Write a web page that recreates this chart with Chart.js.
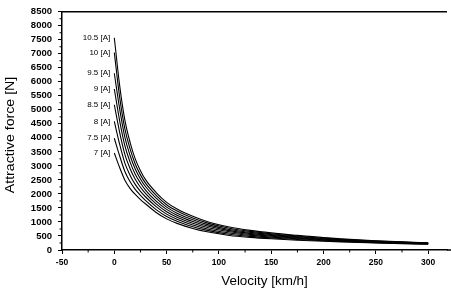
<!DOCTYPE html>
<html><head><meta charset="utf-8">
<script src="https://cdn.jsdelivr.net/npm/chart.js@4.4.0/dist/chart.umd.min.js"></script>
<style>html,body{margin:0;padding:0;background:#fff;}#wrap{width:451px;height:293px;}</style>
</head><body><div id="wrap"><canvas id="c" width="451" height="293"></canvas></div>
<script>
const velocity = [0, 5, 10, 15, 20, 25, 30, 40, 50, 60, 75, 90, 110, 130, 150, 175, 200, 225, 250, 275, 300];
const currentLabels = ['7 [A]', '7.5 [A]', '8 [A]', '8.5 [A]', '9 [A]', '9.5 [A]', '10 [A]', '10.5 [A]'];
const force7A   = [3460, 2950, 2500, 2200, 1980, 1800, 1640, 1340, 1110, 950, 770, 640, 520, 450, 400, 350, 310, 280, 250, 225, 205];
const force7_5A = [3986, 3370, 2810, 2440, 2160, 1950, 1760, 1440, 1195, 1025, 830, 690, 563, 485, 430, 374, 329, 294, 261, 234, 213];
const force8A   = [4584, 3790, 3110, 2670, 2340, 2090, 1890, 1545, 1280, 1095, 893, 743, 606, 521, 460, 399, 347, 309, 273, 244, 221];
const force8_5A = [5181, 4215, 3420, 2910, 2525, 2240, 2010, 1645, 1365, 1170, 955, 795, 650, 557, 490, 423, 366, 323, 284, 253, 229];
const force9A   = [5743, 4635, 3730, 3145, 2705, 2390, 2130, 1745, 1450, 1240, 1015, 846, 690, 593, 520, 447, 384, 337, 296, 262, 236];
const force9_5A = [6305, 5060, 4035, 3380, 2890, 2535, 2255, 1850, 1530, 1315, 1077, 897, 734, 629, 550, 471, 403, 351, 307, 271, 244];
const force10A  = [7042, 5480, 4340, 3615, 3070, 2680, 2375, 1950, 1615, 1390, 1138, 949, 777, 664, 580, 496, 421, 366, 319, 281, 252];
const force10_5A= [7570, 5900, 4650, 3850, 3250, 2830, 2500, 2050, 1700, 1460, 1200, 1000, 820, 700, 610, 520, 440, 380, 330, 290, 260];
const xTicks = [-50, 0, 50, 100, 150, 200, 250, 300];
const yTicks = [0, 500, 1000, 1500, 2000, 2500, 3000, 3500, 4000, 4500, 5000, 5500, 6000, 6500, 7000, 7500, 8000, 8500];
const xTitle = 'Velocity [km/h]';
const yTitle = 'Attractive force [N]';

const seriesValues = [force7A, force7_5A, force8A, force8_5A, force9A, force9_5A, force10A, force10_5A];

const datasets = seriesValues.map((vals, i) => ({
  label: currentLabels[i],
  data: velocity.map((v, j) => ({x: v, y: vals[j]})),
  borderColor: '#000',
  borderWidth: 1.1,
  pointRadius: 0,
  fill: false,
  cubicInterpolationMode: 'monotone'
}));

const FONT = "'Liberation Sans', Arial, sans-serif";

const decor = {
  id: 'decor',
  afterDraw(chart) {
    const ctx = chart.ctx;
    const a = chart.chartArea;
    const xs = chart.scales.x, ys = chart.scales.y;
    ctx.save();
    ctx.strokeStyle = '#000';
    ctx.lineWidth = 1.5;
    ctx.beginPath(); ctx.moveTo(a.left, a.top); ctx.lineTo(a.right, a.top); ctx.stroke();
    ctx.beginPath(); ctx.moveTo(a.right, a.bottom); ctx.lineTo(chart.width, a.bottom); ctx.stroke();
    ctx.lineWidth = 1;
    for (let v = -25; v < 318; v += 50) {
      const px = xs.getPixelForValue(v);
      ctx.beginPath(); ctx.moveTo(px, a.bottom); ctx.lineTo(px, a.bottom + 2.5); ctx.stroke();
    }
    for (let v = 250; v < 8500; v += 500) {
      const py = ys.getPixelForValue(v);
      ctx.beginPath(); ctx.moveTo(a.left, py); ctx.lineTo(a.left - 2.5, py); ctx.stroke();
    }
    ctx.fillStyle = '#000';
    ctx.font = '8px ' + FONT;
    ctx.textAlign = 'right';
    ctx.textBaseline = 'middle';
    chart.data.datasets.forEach((ds, i) => {
      const p = chart.getDatasetMeta(i).data[0];
      ctx.fillText(ds.label, p.x - 4, p.y);
    });
    ctx.font = '12px ' + FONT;
    ctx.textAlign = 'center';
    ctx.save();
    ctx.translate((a.left + a.right) / 2 + 10, 282);
    ctx.scale(1.12, 1);
    ctx.fillText(xTitle, 0, 0);
    ctx.restore();
    ctx.save();
    ctx.translate(11, 135);
    ctx.rotate(-Math.PI / 2);
    ctx.scale(1.18, 1);
    ctx.fillText(yTitle, 0, 0);
    ctx.restore();
    ctx.restore();
  }
};

new Chart(document.getElementById('c'), {
  type: 'line',
  data: { datasets },
  options: {
    responsive: false,
    devicePixelRatio: 1,
    animation: false,
    layout: { padding: { top: 7, right: 4, left: 0, bottom: 0 } },
    plugins: { legend: { display: false }, tooltip: { enabled: false } },
    scales: {
      x: {
        type: 'linear', min: -50, max: 318,
        afterBuildTicks: s => { s.ticks = xTicks.map(v => ({ value: v })); },
        afterFit: s => { s.height = 43; },
        grid: { drawOnChartArea: false, tickLength: 4, color: '#000', tickColor: '#000' },
        border: { color: '#000', width: 1.5 },
        ticks: { color: '#000', font: { size: 8.5, weight: 'bold', family: FONT }, padding: 4, maxRotation: 0, autoSkip: false, callback: v => String(v) }
      },
      y: {
        type: 'linear', min: 0, max: 8500,
        afterBuildTicks: s => { s.ticks = yTicks.map(v => ({ value: v })); },
        afterFit: s => { s.width = 62; },
        grid: { drawOnChartArea: false, tickLength: 4, color: '#000', tickColor: '#000' },
        border: { color: '#000', width: 1.5 },
        ticks: { color: '#000', font: { size: 9.5, weight: 'bold', family: FONT }, padding: 6, autoSkip: false, callback: v => String(v) }
      }
    }
  },
  plugins: [decor]
});
</script></body></html>
